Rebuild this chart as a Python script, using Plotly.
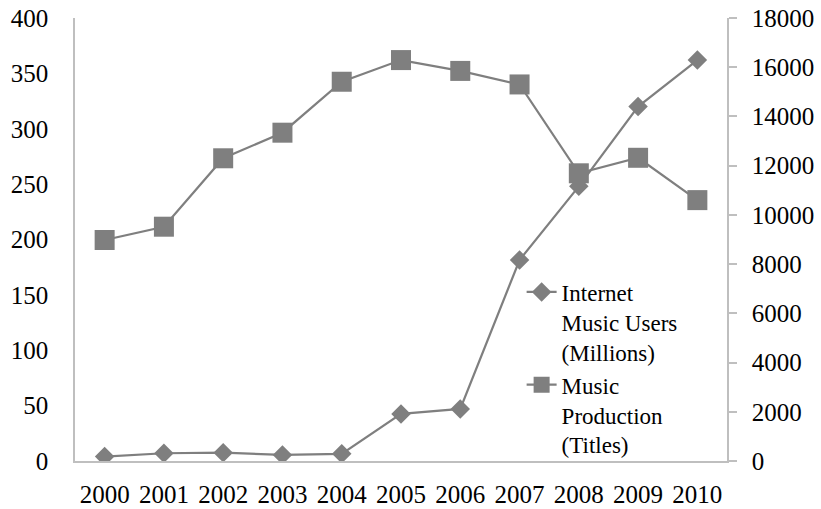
import plotly.graph_objects as go

years = ["2000", "2001", "2002", "2003", "2004", "2005",
         "2006", "2007", "2008", "2009", "2010"]
internet_users = [4, 7, 7.5, 5.5, 6.5, 42.5, 47, 181.5, 248, 320, 362]
music_titles = [8980, 9520, 12300, 13340, 15410, 16290,
                15850, 15300, 11690, 12320, 10600]

GRAY = "#7f7f7f"
AXIS = "#bfbfbf"
FONT = "'Times New Roman', 'Liberation Serif', serif"

fig = go.Figure()
fig.add_trace(go.Scatter(
    x=years, y=internet_users, name="Internet<br>Music Users<br>(Millions)",
    mode="lines+markers",
    line=dict(color=GRAY, width=2.2),
    marker=dict(symbol="diamond", size=15, color=GRAY),
))
fig.add_trace(go.Scatter(
    x=years, y=music_titles, name="Music<br>Production<br>(Titles)",
    mode="lines+markers", yaxis="y2",
    line=dict(color=GRAY, width=2.2),
    marker=dict(symbol="square", size=20, color=GRAY),
))

fig.update_layout(
    width=821, height=509,
    margin=dict(l=75, r=94, t=18, b=48),
    paper_bgcolor="white", plot_bgcolor="white",
    font=dict(family=FONT, size=25, color="black"),
    showlegend=True,
    legend=dict(
        x=0.685, y=0.43, xanchor="left", yanchor="top",
        bgcolor="rgba(0,0,0,0)", font=dict(family=FONT, size=23),
        tracegroupgap=0, itemsizing="trace", valign="top",
    ),
    xaxis=dict(
        type="category", range=[-0.5, 10.5], automargin=False,
        showline=True, linecolor=AXIS, linewidth=1.5,
        showgrid=False, ticks="", ticklabelstandoff=10,
        zeroline=False,
    ),
    yaxis=dict(
        range=[0, 400], dtick=50, showline=True, linecolor=AXIS,
        linewidth=1.5, showgrid=False, ticks="", zeroline=False,
        ticklabelstandoff=20, automargin=False,
    ),
    yaxis2=dict(
        range=[0, 18000], dtick=2000, tickformat="d",
        overlaying="y", side="right", automargin=False,
        showline=True, linecolor=AXIS, linewidth=1.5, showgrid=False,
        ticks="outside", ticklen=8, tickcolor=AXIS, tickwidth=1.5,
        zeroline=False, ticklabelstandoff=10,
    ),
)

fig.write_html("out.html")
